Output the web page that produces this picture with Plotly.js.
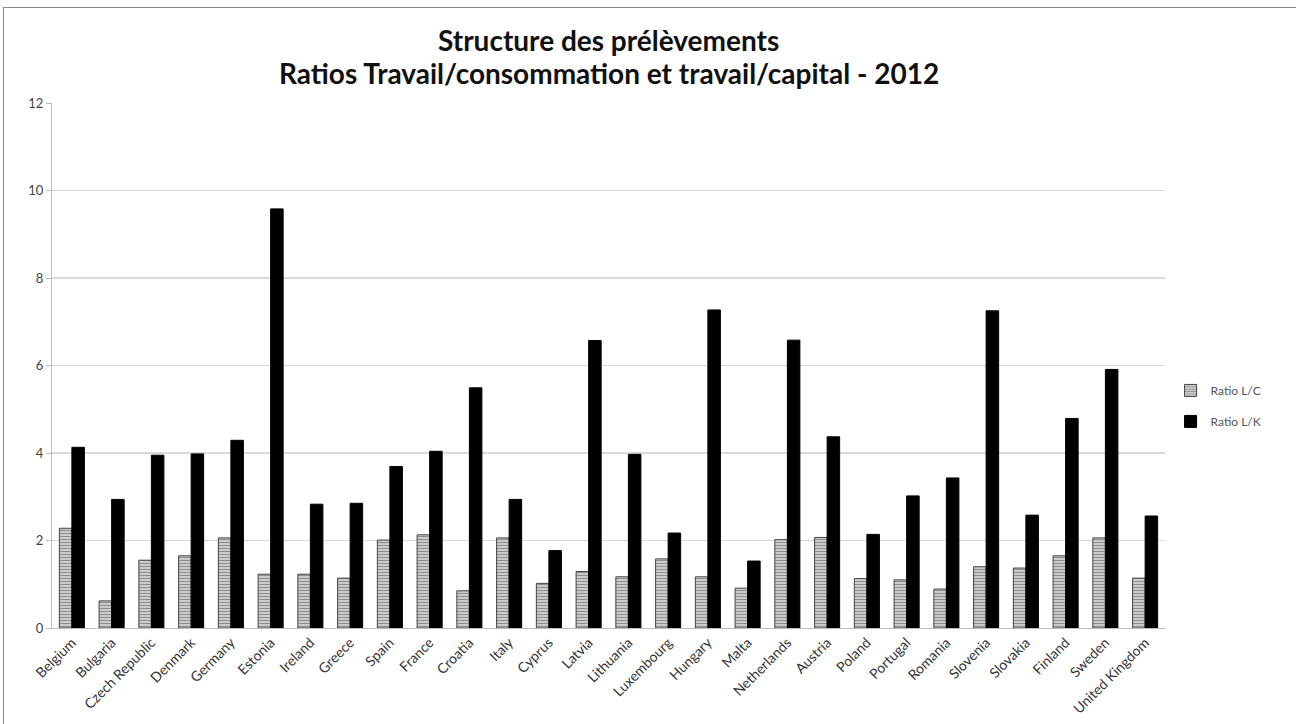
<!DOCTYPE html>
<html><head><meta charset="utf-8">
<script src="https://cdn.plot.ly/plotly-3.0.1.min.js"></script>
<style>
html,body{margin:0;padding:0;background:#fff;}
#wrap{position:relative;width:1296px;height:724px;overflow:hidden;}
#chart{width:1296px;height:724px;}
#frame{position:absolute;left:3px;top:7px;width:1400px;height:800px;border:1px solid #8a8a8a;pointer-events:none;}
</style>
</head><body>
<div id="wrap"><div id="chart"></div><div id="frame"></div></div>
<script>
const countries = ["Belgium","Bulgaria","Czech Republic","Denmark","Germany","Estonia","Ireland","Greece","Spain","France","Croatia","Italy","Cyprus","Latvia","Lithuania","Luxembourg","Hungary","Malta","Netherlands","Austria","Poland","Portugal","Romania","Slovenia","Slovakia","Finland","Sweden","United Kingdom"];
const ratioLC = [2.28,0.62,1.55,1.65,2.06,1.23,1.23,1.14,2.01,2.13,0.85,2.06,1.02,1.29,1.17,1.58,1.17,0.91,2.02,2.07,1.13,1.10,0.89,1.40,1.37,1.65,2.06,1.14];
const ratioLK = [4.13,2.94,3.95,3.98,4.29,9.58,2.83,2.85,3.69,4.04,5.49,2.94,1.77,6.57,3.97,2.17,7.27,1.53,6.58,4.37,2.14,3.02,3.43,7.25,2.58,4.79,5.91,2.56];
const seriesNames = ["Ratio L/C","Ratio L/K"];
const yTicks = [0,2,4,6,8,10,12];
const titleLines = ["Structure des prélèvements","Ratios Travail/consommation et travail/capital - 2012"];

const font = "Lato, 'Open Sans', sans-serif";
const traces = [
  {type:"bar", name:seriesNames[0], legendgroup:"a", x:countries, y:ratioLC,
   marker:{color:"#d4d4d4", line:{color:"#444", width:1},
     pattern:{shape:"-", fgcolor:"#8f8f8f", bgcolor:"#d8d8d8", size:3, solidity:0.45}}},
  {type:"bar", name:seriesNames[1], legendgroup:"b", x:countries, y:ratioLK,
   marker:{color:"#000", line:{color:"#000", width:1}}}
];
const layout = {
  width:1296, height:724,
  margin:{l:52, r:131, t:103, b:96},
  paper_bgcolor:"#fff", plot_bgcolor:"#fff",
  title:{text:""},
  annotations:[
    {text:"<b>"+titleLines[0]+"</b>", xref:"paper", yref:"paper", x:0.5, y:1+(103-40)/525,
     xanchor:"center", yanchor:"middle", showarrow:false, font:{family:font, size:28, color:"#111"}},
    {text:"<b>"+titleLines[1]+"</b>", xref:"paper", yref:"paper", x:0.5, y:1+(103-73)/525,
     xanchor:"center", yanchor:"middle", showarrow:false, font:{family:font, size:28, color:"#111"}}
  ],
  barmode:"group", bargap:0.37, bargroupgap:0,
  xaxis:{tickangle:-45, tickfont:{family:font, size:14, color:"#333"},
    showline:true, linecolor:"#bdbdbd", linewidth:1, ticks:"", showgrid:false, automargin:false},
  yaxis:{range:[0,12], tickvals:yTicks, ticktext:yTicks.map(String),
    tickfont:{family:font, size:13, color:"#444"},
    showgrid:true, gridcolor:"#d9d9d9", gridwidth:1.5,
    showline:true, linecolor:"#bdbdbd", linewidth:1, ticks:"outside", ticklen:5, tickcolor:"#bdbdbd",
    zeroline:false, automargin:false},
  legend:{x:1.005, xanchor:"left", y:0.423, yanchor:"middle", orientation:"v", traceorder:"grouped",
    font:{family:font, size:12, color:"#555"}, bgcolor:"rgba(0,0,0,0)", itemwidth:30, tracegroupgap:12},
  showlegend:true
};
Plotly.newPlot("chart", traces, layout, {displayModeBar:false, staticPlot:true});
</script>
</body></html>
